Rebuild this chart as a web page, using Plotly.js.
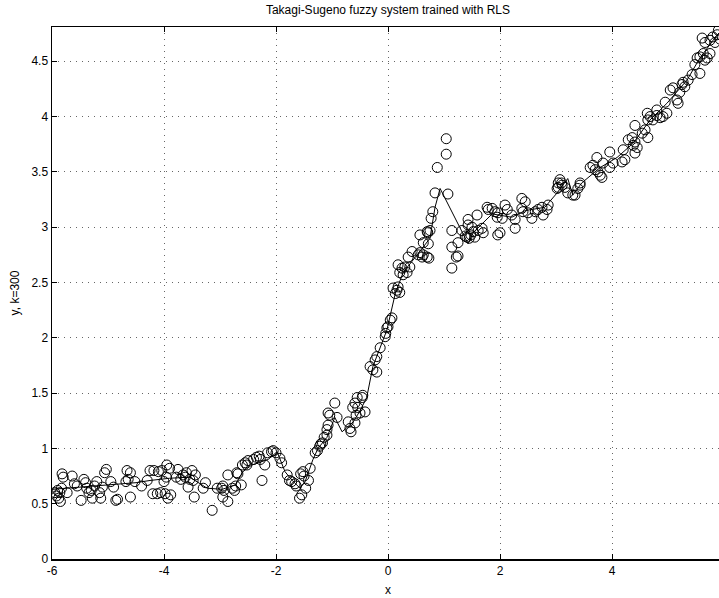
<!DOCTYPE html>
<html>
<head>
<meta charset="utf-8">
<script src="https://cdn.plot.ly/plotly-3.0.1.min.js"></script>
<style>
html,body{margin:0;padding:0;overflow:hidden;background:#fff;}
#chart{width:730px;height:598px;}
</style>
</head>
<body>
<div id="chart"></div>
<script>
const samplesA = [[-5.95,0.6],[-5.92,0.57],[-5.9,0.62],[-5.88,0.55],[-5.86,0.6],[-5.85,0.52],[-5.83,0.64],[-5.82,0.77],[-5.8,0.74],[-5.73,0.6],[-5.64,0.75],[-5.6,0.68],[-5.55,0.66],[-5.48,0.53],[-5.43,0.72],[-5.4,0.69],[-5.38,0.64],[-5.34,0.6],[-5.3,0.62],[-5.28,0.55],[-5.24,0.66],[-5.2,0.70],[-5.15,0.6],[-5.13,0.55],[-5.1,0.65],[-5.06,0.78],[-5.03,0.81],[-4.95,0.7],[-4.9,0.65],[-4.86,0.53],[-4.83,0.54],[-4.68,0.70],[-4.66,0.8],[-4.64,0.72],[-4.6,0.78],[-4.6,0.56],[-4.52,0.70],[-4.4,0.66],[-4.3,0.71],[-4.25,0.8],[-4.2,0.59],[-4.18,0.8],[-4.12,0.59],[-4.1,0.79],[-4.06,0.6],[-4.04,0.8],[-4.0,0.7],[-3.98,0.59],[-3.96,0.74],[-3.95,0.85],[-3.93,0.55],[-3.9,0.82],[-3.88,0.58],[-3.78,0.74],[-3.75,0.81],[-3.7,0.72],[-3.66,0.76],[-3.62,0.74],[-3.6,0.78],[-3.57,0.65],[-3.54,0.72],[-3.5,0.8],[-3.48,0.71],[-3.46,0.56],[-3.44,0.76],[-3.3,0.64],[-3.26,0.69],[-3.14,0.44],[-3.05,0.64]];
const samplesB = [[-2.97,0.64],[-2.95,0.66],[-2.93,0.62],[-2.95,0.56],[-2.86,0.52],[-2.86,0.76],[-2.78,0.64],[-2.74,0.62],[-2.72,0.66],[-2.7,0.78],[-2.68,0.77],[-2.62,0.67],[-2.6,0.85],[-2.55,0.87],[-2.52,0.85],[-2.5,0.89],[-2.4,0.9],[-2.35,0.92],[-2.3,0.93],[-2.28,0.9],[-2.25,0.71],[-2.2,0.85],[-2.15,0.96],[-2.08,0.97],[-2.05,0.98],[-2.0,0.96],[-1.93,0.91],[-1.9,0.87],[-1.8,0.76],[-1.76,0.71],[-1.72,0.7],[-1.66,0.68],[-1.64,0.66],[-1.58,0.55],[-1.54,0.58],[-1.56,0.77],[-1.52,0.79],[-1.5,0.75],[-1.47,0.64],[-1.42,0.71],[-1.39,0.82],[-1.3,0.96],[-1.26,0.98],[-1.22,1.02],[-1.2,1.04],[-1.17,1.05],[-1.14,1.1]];
const samplesC = [[-1.09,1.17],[-1.09,1.12],[-1.07,1.21],[-1.07,1.32],[-1.04,1.3],[-0.95,1.41],[-0.91,1.28],[-0.71,1.24],[-0.68,1.18],[-0.66,1.15],[-0.63,1.37],[-0.59,1.41],[-0.55,1.46],[-0.54,1.37],[-0.5,1.32],[-0.46,1.46],[-0.45,1.48],[-0.57,1.3],[-0.41,1.33],[-0.59,1.23],[-0.32,1.74],[-0.27,1.71],[-0.2,1.69],[-0.23,1.8],[-0.2,1.83],[-0.14,1.91],[-0.05,2.01],[-0.04,2.04],[-0.02,2.09],[0.0,2.1],[0.04,2.16],[0.07,2.18],[0.09,2.45],[0.13,2.4],[0.16,2.43],[0.18,2.46],[0.21,2.41],[0.21,2.59],[0.25,2.63],[0.27,2.57],[0.34,2.59],[0.36,2.73],[0.3,2.64],[0.18,2.66],[0.39,2.64],[0.43,2.78],[0.54,2.75],[0.57,2.77],[0.61,2.73],[0.63,2.75],[0.7,2.73],[0.63,2.86],[0.57,2.93],[0.7,2.96],[0.71,2.95],[0.75,2.97],[0.72,2.85],[0.73,2.72],[0.77,3.08],[0.8,3.14],[0.84,3.31],[0.88,3.54],[1.04,3.66],[1.04,3.8],[1.07,3.30]];
const samplesD = [[1.14,2.97],[1.14,2.82],[1.14,2.63],[1.22,2.73],[1.25,2.86],[1.25,2.74],[1.32,2.97],[1.38,2.92],[1.41,2.91],[1.43,3.07],[1.43,3.02],[1.45,2.9],[1.48,2.93],[1.5,3.0],[1.52,2.96],[1.55,2.91],[1.59,3.11],[1.61,2.97],[1.68,2.99],[1.7,2.95],[1.77,3.18],[1.79,3.16],[1.86,3.17],[1.91,3.14],[1.95,3.09],[1.96,3.13],[2.0,2.95],[1.96,2.93],[2.04,3.08],[2.09,3.2],[2.13,3.16],[2.21,3.11],[2.27,3.07],[2.27,2.99],[2.39,3.26],[2.45,3.23],[2.39,3.17],[2.41,3.14],[2.5,3.13],[2.57,3.08],[2.63,3.14],[2.68,3.16],[2.75,3.18],[2.77,3.11],[2.84,3.16],[2.86,3.2]];
const samplesE = [[3.02,3.35],[3.04,3.4],[3.07,3.43],[3.11,3.38],[3.16,3.36],[3.1,3.4],[3.04,3.36],[3.21,3.31],[3.3,3.29],[3.34,3.29],[3.39,3.35],[3.43,3.4],[3.43,3.38],[3.61,3.54],[3.66,3.56],[3.7,3.52],[3.75,3.5],[3.79,3.47],[3.82,3.45],[3.73,3.63],[3.84,3.58],[3.96,3.54],[4.02,3.58],[3.96,3.68],[4.18,3.59],[4.23,3.61],[4.2,3.7],[4.29,3.79],[4.36,3.81],[4.38,3.74],[4.41,3.77],[4.45,3.72],[4.41,3.67],[4.54,3.85],[4.59,3.88],[4.64,3.81],[4.41,3.92],[4.63,4.03],[4.68,4.0],[4.73,3.97],[4.8,4.01],[4.86,3.99],[4.91,4.0],[4.98,4.03],[4.8,4.06],[4.64,3.97],[4.95,4.13],[5.04,4.24],[5.09,4.26],[5.16,4.15],[5.18,4.12],[5.21,4.22],[5.25,4.29],[5.27,4.31],[5.3,4.27],[5.36,4.33],[5.43,4.38],[5.57,4.39],[5.48,4.47],[5.52,4.53],[5.57,4.54],[5.63,4.57],[5.66,4.51],[5.7,4.53],[5.75,4.69],[5.8,4.72],[5.88,4.74],[5.61,4.71],[5.66,4.67],[5.84,4.67],[5.75,4.57],[5.9,4.78],[5.93,4.7]];

// Fuzzy model output (line)
const modelX = [-6,-5.5,-5,-4.5,-4.25,-3.9,-3.54,-3.23,-2.96,-2.73,-2.59,-2.43,-2.14,-1.98,-1.84,-1.71,-1.57,-1.48,-1.34,-1.25,-1.09,-0.95,-0.82,-0.62,-0.5,-0.38,-0.27,-0.02,0.13,0.27,0.52,0.75,0.84,0.93,1.43,1.52,1.86,2.21,2.45,2.8,3.02,3.21,3.3,3.46,3.79,4.09,4.38,4.68,4.98,5.34,5.57,5.88,6];
const modelY = [0.63,0.65,0.67,0.69,0.71,0.73,0.74,0.64,0.63,0.67,0.79,0.85,0.9,0.97,0.79,0.71,0.64,0.7,0.9,1.0,1.1,1.28,1.15,1.24,1.34,1.46,1.74,2.07,2.4,2.59,2.75,2.9,3.18,3.35,2.85,2.95,3.12,3.09,3.15,3.18,3.31,3.44,3.29,3.4,3.54,3.63,3.76,3.97,4.12,4.33,4.53,4.74,4.8];

const xTicks = [-6,-4,-2,0,2,4,6];
const yTicks = [0,0.5,1,1.5,2,2.5,3,3.5,4,4.5];

const samples = samplesA.concat(samplesB, samplesC, samplesD, samplesE);
const sx = samples.map(p => p[0]);
const sy = samples.map(p => p[1]);

const font = {family: 'Liberation Sans, Arial, Helvetica, sans-serif', size: 12, color: '#000'};

const traces = [
  {x: sx, y: sy, type: 'scatter', mode: 'markers',
   marker: {symbol: 'circle-open', size: 10, color: '#000', line: {width: 1, color: '#000'}},
   hoverinfo: 'skip', showlegend: false},
  {x: modelX, y: modelY, type: 'scatter', mode: 'lines',
   line: {color: '#000', width: 1}, hoverinfo: 'skip', showlegend: false}
];

const axisCommon = {
  showline: true, linecolor: '#000', linewidth: 1.5, mirror: 'ticks',
  ticks: 'inside', ticklen: 5, tickcolor: '#000', tickwidth: 1,
  showgrid: true, gridcolor: '#666', gridwidth: 1, griddash: '1px,5px',
  zeroline: false, tickfont: font
};

const layout = {
  width: 730, height: 598,
  margin: {l: 52, r: 6, t: 27, b: 39},
  paper_bgcolor: '#fff', plot_bgcolor: '#fff',
  font: font,
  title: {text: 'Takagi-Sugeno fuzzy system trained with RLS', font: font,
          x: 388/730, xanchor: 'center', y: 1 - 10/598, yanchor: 'middle', xref: 'container', yref: 'container'},
  xaxis: Object.assign({}, axisCommon, {
    range: [-6, 6], tickvals: xTicks, ticktext: xTicks.map(String),
    title: {text: 'x', font: font, standoff: 8}, automargin: false
  }),
  yaxis: Object.assign({}, axisCommon, {
    range: [0, 4.81], tickvals: yTicks, ticktext: yTicks.map(String),
    title: {text: 'y, k=300', font: font, standoff: 9}, automargin: false
  })
};

Plotly.newPlot('chart', traces, layout, {staticPlot: true, displayModeBar: false});
</script>
</body>
</html>
